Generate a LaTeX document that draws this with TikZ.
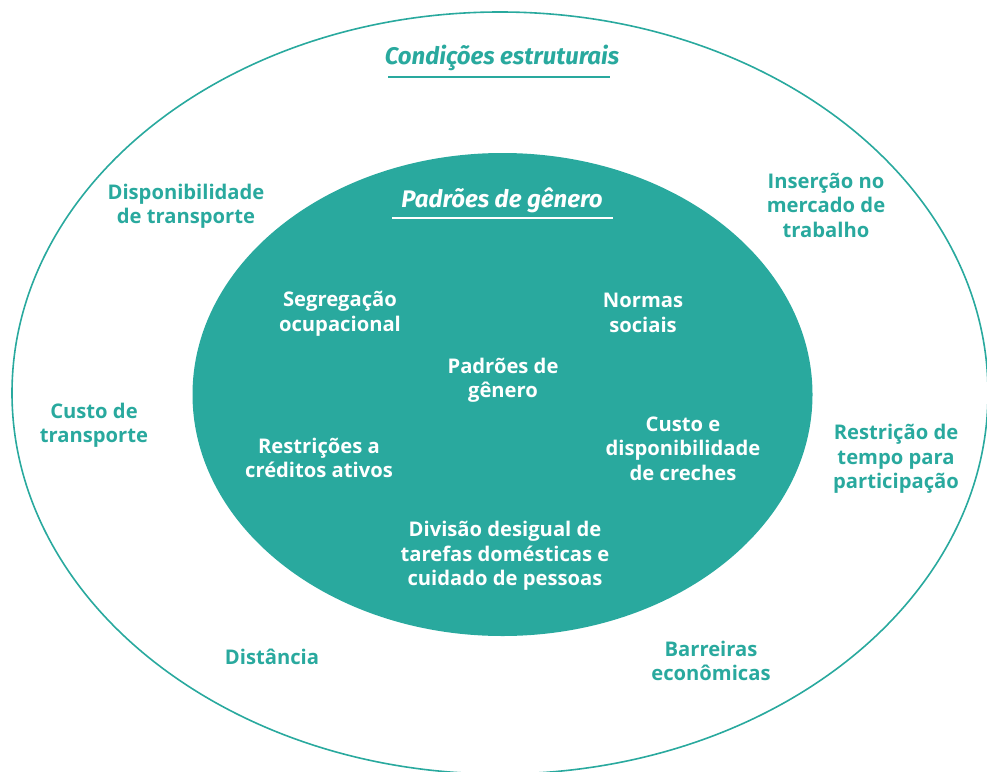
\documentclass[tikz,border=0pt]{standalone}
\usepackage{fontspec}
\setmainfont{Open Sans}
\newfontfamily\titlefont{Fira Sans}
\definecolor{teal1}{HTML}{29A99E}
\usetikzlibrary{positioning}

\begin{document}
\begin{tikzpicture}[x=1pt,y=-1pt,
  outer/.style={text=teal1,font=\fontsize{20.2}{24.5}\selectfont\bfseries,align=center},
  inner/.style={text=white,font=\fontsize{20.2}{24.5}\selectfont\bfseries,align=center},
  heading/.style={font=\fontsize{24}{28}\selectfont\titlefont\bfseries\itshape}]
  \useasboundingbox (0,0) rectangle (987,771);
  \clip (0,0) rectangle (987,771);
  \draw[teal1,line width=1.6pt] (500,393) ellipse [x radius=488,y radius=381];
  \fill[teal1] (502.5,394.5) ellipse [x radius=310,y radius=241.5];

  \node[heading,text=teal1] (cond) at (502,58) {Condições estruturais};
  \draw[teal1,line width=1.6pt] (388,77) -- (610,77);
  \node[heading,text=white] (padt) at (502,200) {Padrões de gênero};
  \draw[white,line width=1.6pt] (392,218) -- (613,218);

  \node[inner] (segr) at (340,314) {Segregação\\ocupacional};
  \node[inner] (norm) at (643,313) {Normas\\sociais};
  \node[inner] (padr) at (503,380) {Padrões de\\gênero};
  \node[inner] (cred) at (319,458) {Restrições a\\créditos ativos};
  \node[inner] (crec) at (683,448.5) {Custo e\\disponibilidade\\de creches};
  \node[inner] (divi) at (505,556) {Divisão desigual de\\tarefas domésticas e\\cuidado de pessoas};

  \node[outer] (disp) at (186,206) {Disponibilidade\\de transporte};
  \node[outer] (inse) at (826,205) {Inserção no\\mercado de\\trabalho};
  \node[outer] (cust) at (94,425) {Custo de\\transporte};
  \node[outer] (rest) at (896,459) {Restrição de\\tempo para\\participação};
  \node[outer] (dist) at (272,657) {Distância};
  \node[outer] (barr) at (711,661) {Barreiras\\econômicas};
\end{tikzpicture}
\end{document}
